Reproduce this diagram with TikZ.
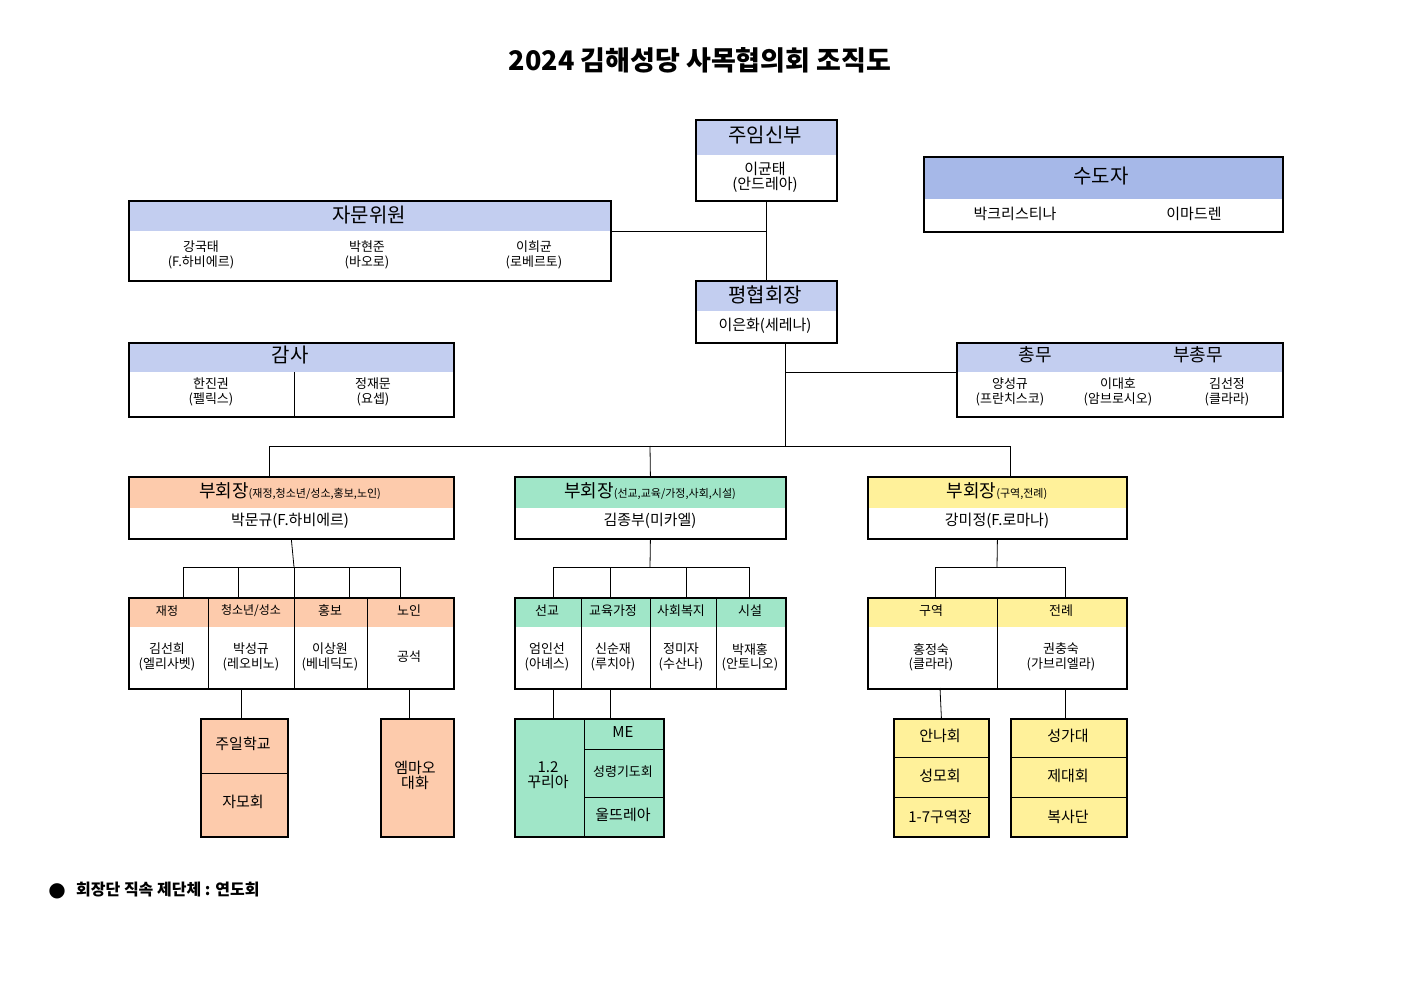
\documentclass[tikz,border=0pt]{standalone}
\usepackage{fontspec}
\setmainfont{Noto Sans CJK KR}
\newfontfamily\symf{DejaVu Sans}
\definecolor{hblue}{HTML}{C3CEF0}
\definecolor{hblued}{HTML}{A6B8E8}
\definecolor{hsal}{HTML}{FDCBAC}
\definecolor{hgrn}{HTML}{A0E6C8}
\definecolor{hyel}{HTML}{FFF19A}
\newcommand\orgbox[7]{%
  \fill[#7] (#2,#3) rectangle (#4,#6);
  \node[draw,line width=1.8pt,inner sep=0,anchor=north west,minimum width=#4pt-#2pt,minimum height=#5pt-#3pt] (#1) at (#2,#3) {};}
\newcommand\fs[1]{\fontsize{#1}{#1}\selectfont}
\tikzset{lbl/.style={inner sep=0,align=center,font=\fs{15}},
  sm/.style={inner sep=0,align=center,font=\fs{13}\linespread{1.1}\selectfont},
  big/.style={inner sep=0,font=\fs{20}},
  conn/.style={line width=0.8pt},
  div/.style={line width=1pt}}
\begin{document}
\begin{tikzpicture}[x=1pt,y=-1pt]
\useasboundingbox (0,0) rectangle (1403,992);
\node[inner sep=0,font=\fs{27}\bfseries] (title) at (700,60) {2024 김해성당 사목협의회 조직도};
% top boxes
\orgbox{jum}{695}{119}{836}{200}{155}{hblue}
\node[big] at (765,135) {주임신부};
\node[lbl] at (765,177) {이균태\\(안드레아)};
\orgbox{jamun}{128}{200}{610}{280}{231}{hblue}
\node[big] at (369,215) {자문위원};
\node[sm] at (201,255) {강국태\\(F.하비에르)};
\node[sm] at (367,255) {박현준\\(바오로)};
\node[sm] at (534,255) {이희균\\(로베르토)};
\orgbox{sudo}{923}{156}{1282}{231}{199}{hblued}
\node[big] at (1101,176) {수도자};
\node[lbl] at (1015,214) {박크리스티나};
\node[lbl] at (1194,214) {이마드렌};
\orgbox{pyeong}{695}{280}{836}{342}{311}{hblue}
\node[big] at (765,295) {평협회장};
\node[lbl] at (765,326) {이은화(세레나)};
\orgbox{gamsa}{128}{342}{453}{416}{372}{hblue}
\draw[div] (294,372) -- (294,416);
\node[big] at (290,355) {감사};
\node[sm] at (211,392) {한진권\\(펠릭스)};
\node[sm] at (373,392) {정재문\\(요셉)};
\orgbox{chong}{956}{342}{1282}{416}{372}{hblue}
\node[inner sep=0,font=\fs{18}] at (1035,355) {총무};
\node[inner sep=0,font=\fs{18}] at (1198,355) {부총무};
\node[sm] at (1010,392) {양성규\\(프란치스코)};
\node[sm] at (1118,392) {이대호\\(암브로시오)};
\node[sm] at (1227,392) {김선정\\(클라라)};
% connectors top
\draw[conn] (jum.south) -- (pyeong.north);
\draw[conn] (jamun.east|-766,231) -- (766,231);
\coordinate (p1) at (785,342);
\draw[conn] (p1) -- (785,446);
\draw[conn] (785,372) -- (chong.west|-785,372);
% vice presidents
\orgbox{vp1}{128}{476}{453}{538}{508}{hsal}
\orgbox{vp2}{514}{476}{785}{538}{508}{hgrn}
\orgbox{vp3}{867}{476}{1126}{538}{508}{hyel}
\draw[conn] (269,476) -- (269,446) -- (1010,446) -- (1010,476);
\draw[conn] (650,446) -- (vp2.north);
\node[inner sep=0] at (290,491) {{\fs{18}부회장}{\fs{11}(재정,청소년/성소,홍보,노인)}};
\node[inner sep=0] at (650,491) {{\fs{18}부회장}{\fs{11}(선교,교육/가정,사회,시설)}};
\node[inner sep=0] at (997,491) {{\fs{18}부회장}{\fs{11}(구역,전례)}};
\node[lbl] at (290,521) {박문규(F.하비에르)};
\node[lbl] at (650,521) {김종부(미카엘)};
\node[lbl] at (997,521) {강미정(F.로마나)};
% sub boxes
\orgbox{s1}{128}{597}{453}{688}{627}{hsal}
\foreach \x in {208,294,367} \draw[div] (\x,597) -- (\x,688);
\draw[conn] (vp1.south) -- (294,567);
\draw[conn] (183,597) -- (183,567) -- (400,567) -- (400,597);
\foreach \x in {238,294,349} \draw[conn] (\x,567) -- (\x,597);
\node[sm,font=\fs{12}] at (167,611) {재정};
\node[sm,font=\fs{12}] at (251,611) {청소년/성소};
\node[sm,font=\fs{13}] at (330,611) {홍보};
\node[sm,font=\fs{13}] at (409,611) {노인};
\node[sm] at (167,657) {김선희\\(엘리사벳)};
\node[sm] at (251,657) {박성규\\(레오비노)};
\node[sm] at (330,657) {이상원\\(베네딕도)};
\node[sm] at (409,657) {공석};
\orgbox{s2}{514}{597}{785}{688}{627}{hgrn}
\foreach \x in {581,650,716} \draw[div] (\x,597) -- (\x,688);
\draw[conn] (vp2.south) -- (650,567);
\draw[conn] (553,597) -- (553,567) -- (749,567) -- (749,597);
\foreach \x in {610,686} \draw[conn] (\x,567) -- (\x,597);
\node[sm] at (547,611) {선교};
\node[sm] at (613,611) {교육가정};
\node[sm] at (681,611) {사회복지};
\node[sm] at (750,611) {시설};
\node[sm] at (547,657) {엄인선\\(아녜스)};
\node[sm] at (613,657) {신순재\\(루치아)};
\node[sm] at (681,657) {정미자\\(수산나)};
\node[sm] at (750,657) {박재홍\\(안토니오)};
\orgbox{s3}{867}{597}{1126}{688}{627}{hyel}
\draw[div] (997,597) -- (997,688);
\draw[conn] (vp3.south) -- (997,567);
\draw[conn] (935,597) -- (935,567) -- (1065,567) -- (1065,597);
\node[sm] at (931,611) {구역};
\node[sm] at (1061,611) {전례};
\node[sm] at (931,657) {홍정숙\\(클라라)};
\node[sm] at (1061,657) {권충숙\\(가브리엘라)};
% lower groups
\orgbox{jui}{200}{718}{287}{836}{836}{hsal}
\draw[div] (200,773) -- (287,773);
\node[lbl] at (243,744) {주일학교};
\node[lbl] at (243,802) {자모회};
\draw[conn] (241,688) -- (jui.north-|241,718);
\orgbox{emm}{380}{718}{453}{836}{836}{hsal}
\node[lbl] at (415,775) {엠마오\\대화};
\draw[conn] (409,688) -- (emm.north-|409,718);
\orgbox{cur}{514}{718}{663}{836}{836}{hgrn}
\draw[div] (584,718) -- (584,836);
\draw[div] (584,749) -- (663,749);
\draw[div] (584,797) -- (663,797);
\node[lbl] at (548,775) {1.2\\꾸리아};
\node[lbl] at (623,732) {ME};
\node[sm] at (623,772) {성령기도회};
\node[lbl] at (623,815) {울뜨레아};
\draw[conn] (553,688) -- (553,718);
\draw[conn] (610,688) -- (610,718);
\orgbox{ann}{893}{718}{988}{836}{836}{hyel}
\draw[div] (893,757) -- (988,757);
\draw[div] (893,797) -- (988,797);
\node[lbl] at (940,736) {안나회};
\node[lbl] at (940,776) {성모회};
\node[lbl] at (940,817) {1-7구역장};
\draw[conn] (940,688) -- (ann.north);
\orgbox{sung}{1010}{718}{1126}{836}{836}{hyel}
\draw[div] (1010,757) -- (1126,757);
\draw[div] (1010,797) -- (1126,797);
\node[lbl] at (1068,736) {성가대};
\node[lbl] at (1068,776) {제대회};
\node[lbl] at (1068,817) {복사단};
\draw[conn] (1065,688) -- (1065,718);
% legend
\node[inner sep=0,font=\symf\fs{20}] (dot) at (57,891) {●};
\node[inner sep=0,anchor=west,font=\fs{16}\bfseries] (leg) at (76,890) {회장단 직속 제단체 : 연도회};
\end{tikzpicture}
\end{document}
